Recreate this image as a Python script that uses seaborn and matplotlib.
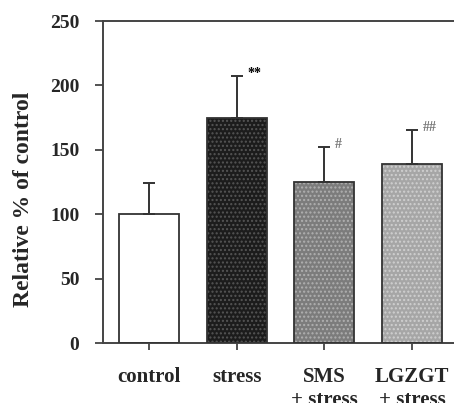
import matplotlib
matplotlib.use("Agg")
import matplotlib.pyplot as plt
import seaborn as sns
import pandas as pd
from matplotlib.patches import Rectangle

categories = ["control", "stress", "SMS\n+ stress", "LGZGT\n+ stress"]
values = [100, 175, 125, 139]
errors = [24, 32, 27, 26]
marks = ["", "**", "#", "##"]
bar_colors = ["#ffffff", "#1c1c1c", "#7c7c7c", "#a6a6a6"]
dot_colors = ["#ffffff", "#555555", "#b0b0b0", "#d0d0d0"]
mark_colors = ["black", "black", "#777777", "#777777"]

sns.set_theme(style="ticks")
plt.rcParams["font.family"] = ["Liberation Serif", "DejaVu Serif"]
plt.rcParams["font.weight"] = "bold"
plt.rcParams["hatch.linewidth"] = 1.0

df = pd.DataFrame({"group": categories, "value": values})

fig = plt.figure(figsize=(4.54, 4.03), dpi=100)
ax = fig.add_axes([103 / 454, 60 / 403, 1 - 103 / 454, 322 / 403])

sns.barplot(data=df, x="group", y="value", hue="group", palette=bar_colors,
            order=categories, hue_order=categories, legend=False,
            width=0.685, ax=ax, linewidth=0, errorbar=None)

for patch, dc, hatch in zip(ax.patches, dot_colors, ["", "....", "....", "...."]):
    patch.set_edgecolor(dc)
    patch.set_hatch(hatch)
    patch.set_linewidth(0)
    outline = Rectangle(patch.get_xy(), patch.get_width(), patch.get_height(),
                        fill=False, edgecolor="#333333", linewidth=1.3, zorder=3)
    ax.add_patch(outline)

centers = [p.get_x() + p.get_width() / 2 for p in ax.patches[:len(values)]]
ax.errorbar(centers, values, yerr=[[0] * len(errors), errors], fmt="none",
            ecolor="#333333", elinewidth=1.4, capsize=4.5, capthick=1.4, zorder=2)

for c, v, e, m, mc in zip(centers, values, errors, marks, mark_colors):
    if m:
        ax.text(c + 0.12, v + e + 2, m, ha="left", va="center", fontsize=10,
                color=mc, fontweight="bold")

ax.set_ylim(0, 250)
ax.set_xlim(-0.525, 3.48)
ax.set_yticks([0, 50, 100, 150, 200, 250])
ax.set_xlabel("")
ax.set_ylabel("Relative % of control", fontsize=17, fontweight="bold")
ax.yaxis.set_label_coords(-0.197, 0.447)

for s in ["left", "bottom", "top"]:
    ax.spines[s].set_color("#444444")
    ax.spines[s].set_linewidth(1.4)
ax.spines["right"].set_visible(False)

ax.tick_params(axis="y", length=6, width=1.3, color="#444444", labelsize=14, pad=11)
ax.tick_params(axis="x", length=5, width=1.3, color="#444444", labelsize=15, pad=12)
for lab in ax.get_xticklabels() + ax.get_yticklabels():
    lab.set_fontweight("bold")

fig.savefig("out.png", dpi=100)
